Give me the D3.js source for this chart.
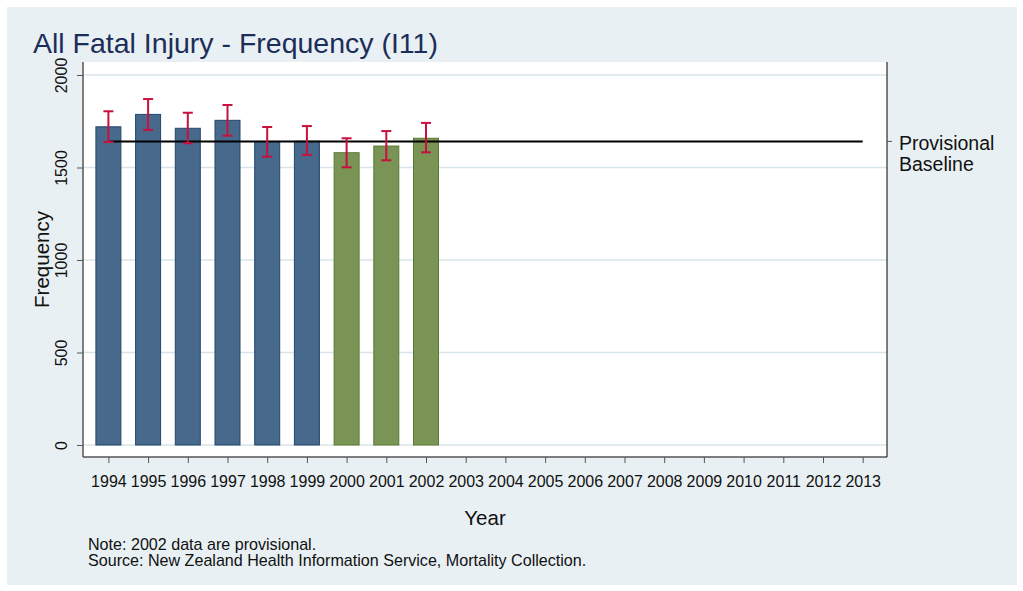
<!DOCTYPE html>
<html>
<head>
<meta charset="utf-8">
<script src="https://cdn.jsdelivr.net/npm/d3@7"></script>
<style>
  body { margin: 0; background: #fff; }
  svg text { font-family: "Liberation Sans", Arial, sans-serif; }
</style>
</head>
<body>
<div class="graphics-view"></div>
<script>
const years = d3.range(1994, 2014);
const barYears = [1994, 1995, 1996, 1997, 1998, 1999, 2000, 2001, 2002];
const frequency = [1720, 1787, 1712, 1755, 1641, 1642, 1580, 1616, 1658];
const ciLow = [1638, 1703, 1631, 1672, 1558, 1568, 1501, 1539, 1582];
const ciHigh = [1804, 1870, 1796, 1838, 1719, 1724, 1658, 1697, 1741];
const provisionalFrom = 2000;
const baseline = 1641;
const yTicks = [0, 500, 1000, 1500, 2000];

function app() {
  const W = 1023, H = 591;
  const PLOT = { left: 83, right: 887, top: 62, bottom: 457 };

  const svg = d3.select('.graphics-view').append('svg')
    .attr('width', W).attr('height', H);

  svg.append('rect')
    .attr('x', 7).attr('y', 7).attr('width', 1010).attr('height', 578)
    .attr('fill', '#e8f0f3');

  svg.append('rect')
    .attr('x', PLOT.left).attr('y', PLOT.top)
    .attr('width', PLOT.right - PLOT.left).attr('height', PLOT.bottom - PLOT.top)
    .attr('fill', '#fff');

  const x = d3.scalePoint().domain(years).range([108.4, 862.7]);
  const y = d3.scaleLinear().domain([0, 2000]).range([445, 75]);
  const barW = 25;

  // gridlines
  svg.append('g').selectAll('line').data(yTicks).enter().append('line')
    .attr('x1', PLOT.left).attr('x2', PLOT.right)
    .attr('y1', d => y(d)).attr('y2', d => y(d))
    .attr('stroke', '#d8e4e9').attr('stroke-width', 1.5);

  // bars
  svg.append('g').selectAll('rect').data(barYears).enter().append('rect')
    .attr('x', d => x(d) - barW / 2)
    .attr('width', barW)
    .attr('y', (d, i) => y(frequency[i]))
    .attr('height', (d, i) => y(0) - y(frequency[i]))
    .attr('fill', d => d >= provisionalFrom ? '#7a9456' : '#476a8c')
    .attr('stroke', d => d >= provisionalFrom ? '#5b7a32' : '#22466b')
    .attr('stroke-width', 1);

  // baseline
  svg.append('line')
    .attr('x1', x(1994)).attr('x2', x(2013))
    .attr('y1', y(baseline)).attr('y2', y(baseline))
    .attr('stroke', '#000').attr('stroke-width', 2);

  // error bars
  const eb = svg.append('g').attr('stroke', '#c8103e').attr('stroke-width', 2);
  barYears.forEach((yr, i) => {
    const cx = x(yr);
    eb.append('line').attr('x1', cx).attr('x2', cx)
      .attr('y1', y(ciLow[i])).attr('y2', y(ciHigh[i]));
    [ciLow[i], ciHigh[i]].forEach(v => {
      eb.append('line').attr('x1', cx - 5).attr('x2', cx + 5)
        .attr('y1', y(v)).attr('y2', y(v));
    });
  });

  // y axis
  const yAxis = svg.append('g')
    .attr('transform', `translate(${PLOT.left},0)`)
    .call(d3.axisLeft(y).tickValues(yTicks).tickFormat(d3.format('d'))
      .tickSize(6).tickSizeOuter(0));
  yAxis.select('.domain').attr('d', `M0,${PLOT.top}V${PLOT.bottom}`)
    .attr('stroke', '#555').attr('stroke-width', 1.5);
  yAxis.selectAll('.tick line').attr('stroke', '#555');
  yAxis.selectAll('.tick text')
    .attr('transform', 'rotate(-90)')
    .attr('x', 0).attr('y', -16).attr('dy', 0)
    .attr('text-anchor', 'middle')
    .attr('font-size', 16).attr('fill', '#111');

  // x axis
  const xAxis = svg.append('g')
    .attr('transform', `translate(0,${PLOT.bottom})`)
    .call(d3.axisBottom(x).tickSize(6).tickSizeOuter(0));
  xAxis.select('.domain').attr('d', `M${PLOT.left},0H${PLOT.right}`)
    .attr('stroke', '#555').attr('stroke-width', 1.5);
  xAxis.selectAll('.tick line').attr('stroke', '#555');
  xAxis.selectAll('.tick text')
    .attr('y', 30).attr('dy', 0)
    .attr('font-size', 16).attr('fill', '#111');

  // right border and baseline label tick
  svg.append('line')
    .attr('x1', PLOT.right).attr('x2', PLOT.right)
    .attr('y1', PLOT.top).attr('y2', PLOT.bottom)
    .attr('stroke', '#000').attr('stroke-width', 1);
  svg.append('line')
    .attr('x1', PLOT.right).attr('x2', PLOT.right + 5)
    .attr('y1', y(baseline)).attr('y2', y(baseline))
    .attr('stroke', '#555');
  svg.append('text').attr('x', 899).attr('y', 149.5)
    .attr('font-size', 19.5).attr('fill', '#111').text('Provisional');
  svg.append('text').attr('x', 899).attr('y', 171)
    .attr('font-size', 19.5).attr('fill', '#111').text('Baseline');

  // titles
  svg.append('text').attr('x', 33).attr('y', 53)
    .attr('font-size', 28.5).attr('fill', '#1c2d59')
    .text('All Fatal Injury - Frequency (I11)');

  svg.append('text')
    .attr('transform', `translate(49,${(PLOT.top + PLOT.bottom) / 2}) rotate(-90)`)
    .attr('text-anchor', 'middle')
    .attr('font-size', 20.5).attr('fill', '#111').text('Frequency');

  svg.append('text').attr('x', 485).attr('y', 525)
    .attr('text-anchor', 'middle')
    .attr('font-size', 20.5).attr('fill', '#111').text('Year');

  svg.append('text').attr('x', 88).attr('y', 550)
    .attr('font-size', 16.1).attr('fill', '#111').text('Note: 2002 data are provisional.');
  svg.append('text').attr('x', 88).attr('y', 566)
    .attr('font-size', 16.1).attr('fill', '#111')
    .text('Source: New Zealand Health Information Service, Mortality Collection.');
}

app();
</script>
</body>
</html>
